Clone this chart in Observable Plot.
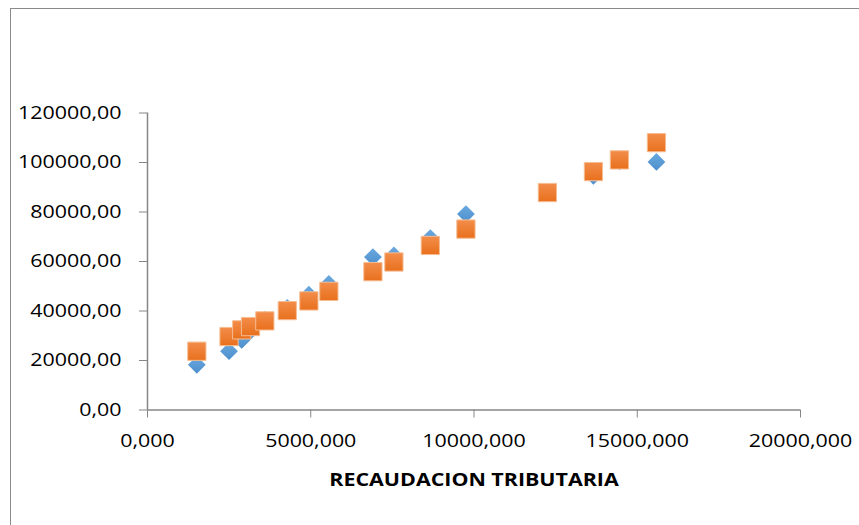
<!DOCTYPE html>
<html>
<head>
<meta charset="utf-8">
<script src="https://cdn.jsdelivr.net/npm/d3@7"></script>
<script src="https://cdn.jsdelivr.net/npm/@observablehq/plot@0.6"></script>
<style>
  body { margin: 0; background: #fff; }
  #wrap { position: relative; width: 859px; height: 525px; overflow: hidden; background: #fff; }
  #wrap svg { position: absolute; left: 0; top: 0; }
  #frame { position: absolute; left: 10px; top: 8px; width: 920px; height: 620px;
           border-left: 1.5px solid #8a8a8a; border-top: 1.5px solid #8a8a8a; pointer-events: none; }
</style>
</head>
<body>
<div id="wrap"><div id="frame"></div></div>
<script>
// Recaudación tributaria (eje X) y las dos series graficadas contra ella
const recaudacion = [1511, 2497, 2886, 3156, 3594, 4281, 4943, 5555, 6904, 7547, 8662, 9753, 12248, 13657, 14454, 15588];
const serie1 = [18270, 23750, 28300, 32000, 36530, 41250, 46610, 50930, 61810, 62460, 69480, 79150, 87700, 94600, 100530, 100240];
const serie2 = [23750, 29680, 32380, 33710, 36010, 40160, 44070, 47940, 55890, 59800, 66490, 73100, 87860, 96330, 101050, 108020];

const xTicks = [0, 5000, 10000, 15000, 20000];
const yTicks = [0, 20000, 40000, 60000, 80000, 100000, 120000];
const xTitle = "RECAUDACION TRIBUTARIA";

const rows1 = recaudacion.map((x, i) => ({x, y: serie1[i]}));
const rows2 = recaudacion.map((x, i) => ({x, y: serie2[i]}));

const fmtX = d => d3.format(".3f")(d).replace(".", ",");
const fmtY = d => d3.format(".2f")(d).replace(".", ",");

const axisGray = "#868686";

const chart = Plot.plot({
  width: 859,
  height: 525,
  marginLeft: 147,
  marginRight: 59,
  marginTop: 112.5,
  marginBottom: 115.5,
  style: { fontFamily: "'Open Sans', sans-serif", fontSize: "18px", color: "#000", background: "transparent" },
  x: { domain: [0, 20000] },
  y: { domain: [0, 120000] },
  marks: [
    Plot.axisX({ ticks: xTicks, tickSize: 8, tickPadding: 16, stroke: axisGray, fill: "#000", tickFormat: fmtX, label: null }),
    Plot.axisY({ ticks: yTicks, tickSize: 8, tickPadding: 18, stroke: axisGray, fill: "#000", tickFormat: fmtY, label: null }),
    Plot.ruleY([0], { stroke: axisGray, strokeWidth: 1.5 }),
    Plot.ruleX([0], { stroke: axisGray, strokeWidth: 1.5 }),
    // serie 1: rombos azules, dibujados debajo
    Plot.dot(rows1, { x: "x", y: "y", symbol: "diamond2", r: 8, fill: "url(#gradAzul)", stroke: "none" }),
    // serie 2: cuadrados naranjas encima
    Plot.dot(rows2, { x: "x", y: "y", symbol: "square", r: 10.3, fill: "url(#gradNaranja)", stroke: "#f6bd92", strokeWidth: 1 }),
    Plot.text([xTitle], { text: d => d, frameAnchor: "bottom", dy: 76, fontWeight: "bold", fontSize: 18, fill: "#000" })
  ]
});

// degradados de relleno de los marcadores
const defs = d3.select(chart).insert("defs", ":first-child");
const addGrad = (id, top, bottom) => {
  const g = defs.append("linearGradient").attr("id", id).attr("x1", 0).attr("y1", 0).attr("x2", 0).attr("y2", 1);
  g.append("stop").attr("offset", "0%").attr("stop-color", top);
  g.append("stop").attr("offset", "100%").attr("stop-color", bottom);
};
addGrad("gradAzul", "#6aa8df", "#4d8fcc");
addGrad("gradNaranja", "#f38d4a", "#e8701d");

// texto ensanchado horizontalmente, al estilo de la tipografía de la hoja de cálculo
const stretch = 1.19;
d3.select(chart).selectAll("text").each(function() {
  const t = d3.select(this);
  const tr = t.attr("transform");
  if (tr && tr.includes("translate")) {
    t.attr("transform", `${tr} scale(${stretch},1)`);
  } else {
    const x = +(t.attr("x") || 0), y = +(t.attr("y") || 0);
    t.attr("x", null).attr("y", null)
     .attr("transform", `${tr ? tr + " " : ""}translate(${x},${y}) scale(${stretch},1)`);
  }
});

document.getElementById("wrap").insertBefore(chart, document.getElementById("frame"));
</script>
</body>
</html>
